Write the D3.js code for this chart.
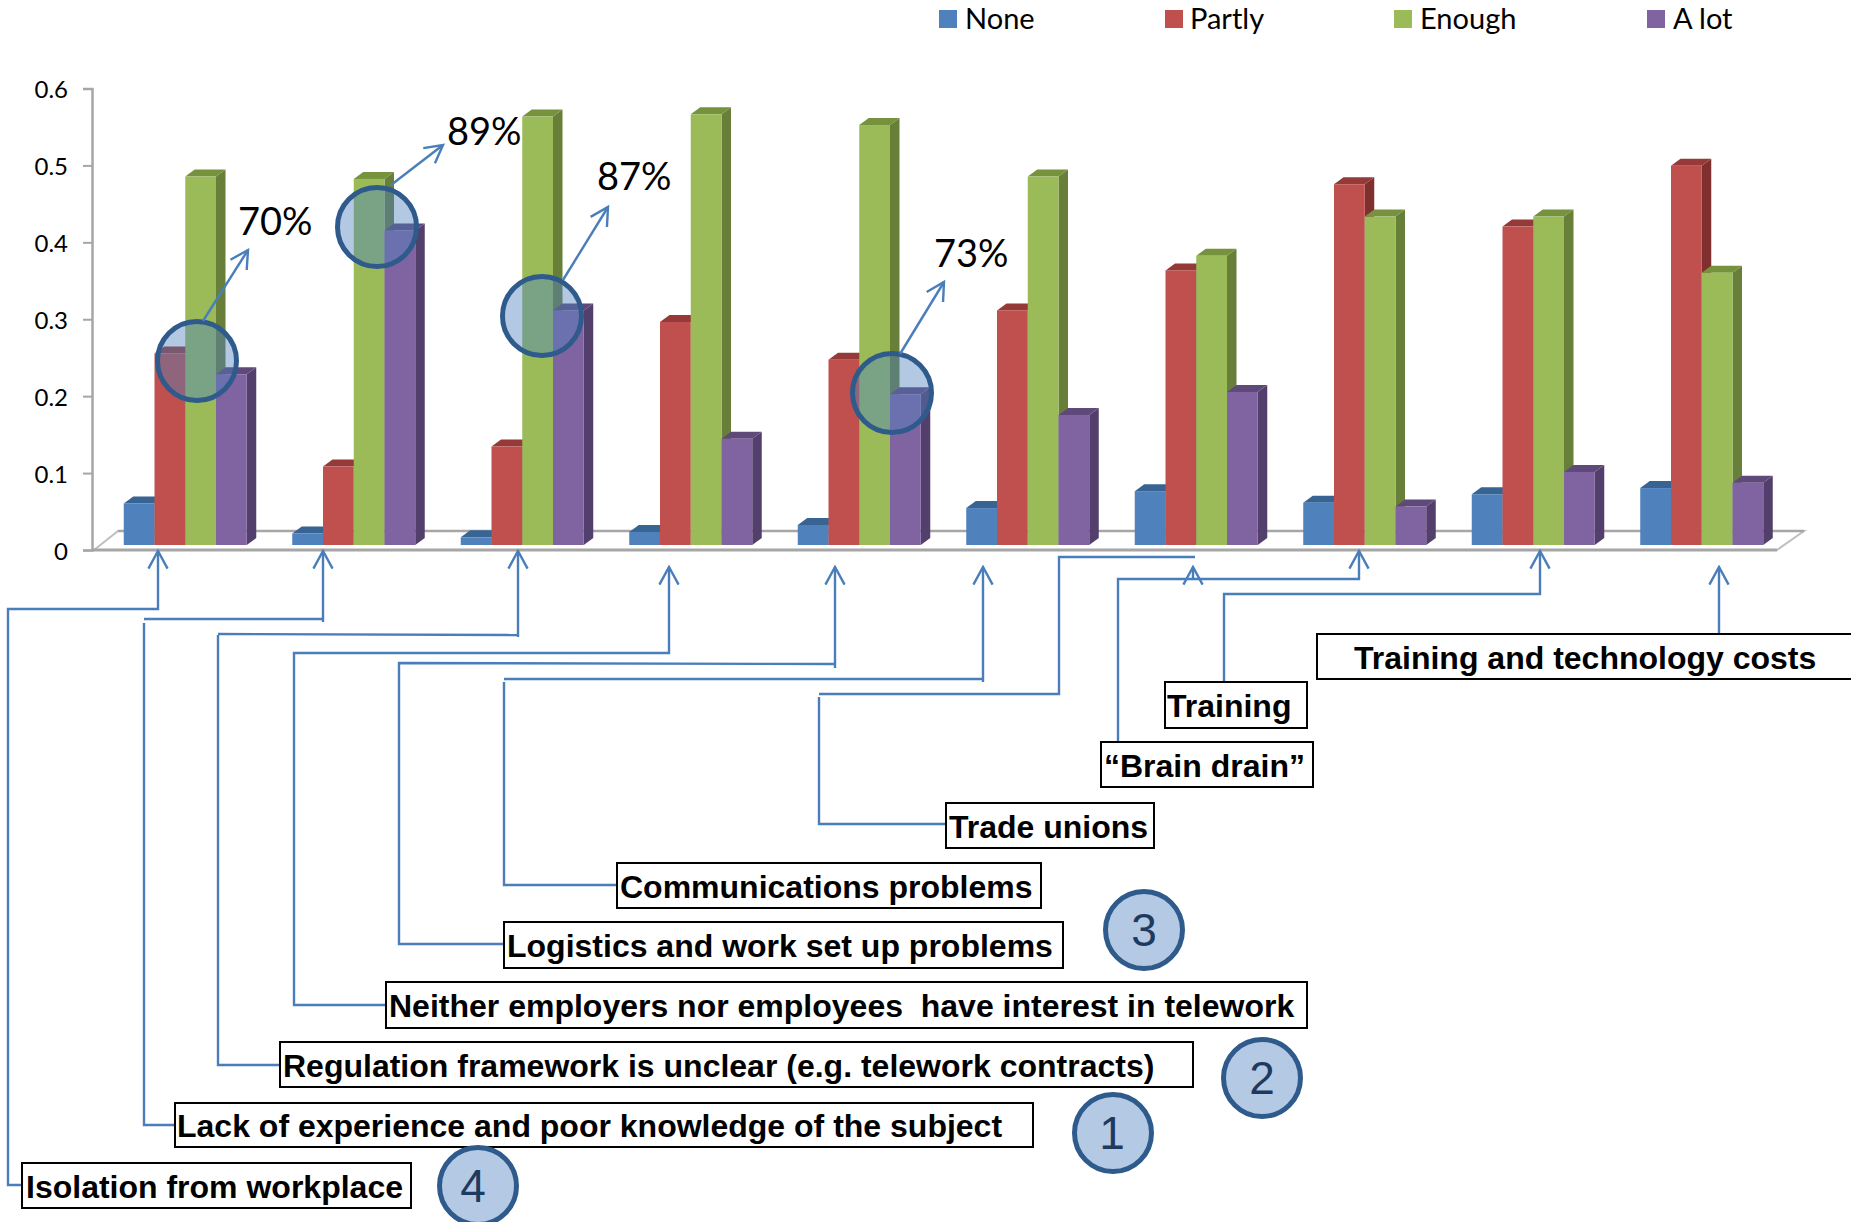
<!DOCTYPE html>
<html>
<head>
<meta charset="utf-8">
<script src="https://cdn.jsdelivr.net/npm/d3@7"></script>
<style>
html,body{margin:0;padding:0;background:#fff;overflow:hidden}
svg{display:block}
</style>
</head>
<body>
<svg id="chart" width="1851" height="1222"></svg>
<script>
// Survey answers per barrier, in axis order
const barriers = [
  "Isolation from workplace",
  "Lack of experience and poor knowledge of the subject",
  "Regulation framework is unclear (e.g. telework contracts)",
  "Neither employers nor employees  have interest in telework",
  "Logistics and work set up problems",
  "Communications problems",
  "Trade unions",
  "\u201cBrain drain\u201d",
  "Training",
  "Training and technology costs"
];
const seriesNames = ["None", "Partly", "Enough", "A lot"];
const none   = [0.054, 0.015, 0.010, 0.017, 0.026, 0.048, 0.070, 0.055, 0.066, 0.074];
const partly = [0.249, 0.102, 0.128, 0.290, 0.241, 0.305, 0.357, 0.469, 0.414, 0.493];
const enough = [0.479, 0.476, 0.557, 0.560, 0.546, 0.479, 0.376, 0.427, 0.427, 0.354];
const aLot   = [0.222, 0.409, 0.305, 0.138, 0.196, 0.169, 0.199, 0.050, 0.095, 0.081];
const yTicks = [0, 0.1, 0.2, 0.3, 0.4, 0.5, 0.6];

// Share callouts and ranking badges
const callouts = ["70%", "89%", "87%", "73%"];
const ranks = ["3", "2", "1", "4"];

const faceColors = ["#4f81bd", "#c0504d", "#9bbb59", "#8064a2"];
const topColors  = ["#386494", "#953a38", "#76923c", "#5f497a"];
const sideColors = ["#2f5580", "#7f302e", "#687f3a", "#533f6b"];

const columns = [none, partly, enough, aLot];
const svg = d3.select("#chart");

const sansNarrow = "Lato, sans-serif";
const sansBold = "'Liberation Sans', Arial, sans-serif";
const lineBlue = "#4a7ebb";

// Scales: the bars stand on a floor drawn slightly above the axis zero
const y = d3.scaleLinear().domain([0, 0.6]).range([550, 88.5]);
const x = d3.scaleBand().domain(barriers).range([101, 1786]).paddingInner(0.27).paddingOuter(0.135);
const xInner = d3.scaleBand().domain(seriesNames).range([0, x.bandwidth()]);
const floorLift = 5, depthX = 9.5, depthY = 7;

// Floor of the 3D plot
svg.append("path")
  .attr("d", "M94,550L118,531L1804,531L1777,550Z")
  .attr("fill", "#fff").attr("stroke", "#bfbfbf").attr("stroke-width", 2);
svg.append("line").attr("x1", 92).attr("x2", 1777).attr("y1", 550).attr("y2", 550)
  .attr("stroke", "#a6a6a6").attr("stroke-width", 3);
svg.append("line").attr("x1", 118).attr("x2", 1804).attr("y1", 531).attr("y2", 531)
  .attr("stroke", "#a6a6a6").attr("stroke-width", 2.5);

// Value axis
const axis = d3.axisLeft(y).tickValues(yTicks).tickFormat(d => d === 0 ? "0" : d3.format(".1f")(d)).tickSize(9).tickPadding(15);
const axisG = svg.append("g").attr("transform", "translate(92,0)").call(axis);
axisG.select(".domain").attr("stroke", "#a6a6a6").attr("stroke-width", 2.5);
axisG.selectAll(".tick line").attr("stroke", "#a6a6a6").attr("stroke-width", 2);
axisG.selectAll(".tick text").attr("font-family", sansNarrow).attr("font-size", 24).attr("fill", "#000")
  .attr("transform", "translate(0,1.5)");

// Bars: painted left to right so each front face overlaps its neighbour's side
barriers.forEach((b, i) => {
  const g = svg.append("g");
  seriesNames.forEach((s, j) => {
    const v = columns[j][i];
    const x0 = x(b) + xInner(s), x1 = x0 + xInner.bandwidth();
    const base = y(0) - floorLift, top = y(v) - floorLift;
    g.append("path")
      .attr("d", `M${x1},${top}L${x1 + depthX},${top - depthY}L${x1 + depthX},${base - depthY}L${x1},${base}Z`)
      .attr("fill", sideColors[j]);
    g.append("path")
      .attr("d", `M${x0},${top}L${x0 + depthX},${top - depthY}L${x1 + depthX},${top - depthY}L${x1},${top}Z`)
      .attr("fill", topColors[j]);
    g.append("rect").attr("x", x0).attr("y", top).attr("width", x1 - x0).attr("height", base - top)
      .attr("fill", faceColors[j]);
  });
});

// Legend
const legendSwatch = [939, 1165, 1394, 1647];
const legendText = [965, 1190, 1420, 1673];
seriesNames.forEach((s, j) => {
  svg.append("rect").attr("x", legendSwatch[j]).attr("y", 10).attr("width", 18).attr("height", 18).attr("fill", faceColors[j]);
  svg.append("text").attr("x", legendText[j]).attr("y", 29).text(s)
    .attr("font-family", sansNarrow).attr("font-size", 29).attr("fill", "#000");
});

// Open arrowhead helper
function arrowHead(x0, y0, x1, y1, len) {
  const a = Math.atan2(y1 - y0, x1 - x0), w = 0.5;
  const p = d3.path();
  p.moveTo(x1 - len * Math.cos(a - w), y1 - len * Math.sin(a - w));
  p.lineTo(x1, y1);
  p.lineTo(x1 - len * Math.cos(a + w), y1 - len * Math.sin(a + w));
  return p.toString();
}

// Elbow connectors from each label box up to its bar group
const connectors = [
  [[22,1185],[8,1185],[8,609],[158,609],[158,551]],
  [[175,1125],[144,1125],[144,623]],
  [[144,619],[323,619]],
  [[323,622],[323,551]],
  [[280,1065],[218,1065],[218,635]],
  [[218,634],[518,635]],
  [[518,637],[518,551]],
  [[386,1005],[294,1005],[294,653],[669,653],[669,567]],
  [[504,944],[399,944],[399,663],[835,664]],
  [[835,668],[835,567]],
  [[617,885],[504,885],[504,682]],
  [[504,679],[983,679]],
  [[983,682],[983,567]],
  [[946,824],[819,824],[819,697]],
  [[819,694],[1059,694],[1059,557],[1195,557]],
  [[1193,579],[1193,567]],
  [[1118,742],[1118,579],[1359,579],[1359,551]],
  [[1224,682],[1224,594],[1540,594],[1540,551]],
  [[1719,638],[1719,567]]
];
const lineGen = d3.line();
const headEnds = new Set([0, 3, 6, 7, 9, 12, 15, 16, 17, 18]);
connectors.forEach((pts, i) => {
  svg.append("path").attr("d", lineGen(pts)).attr("fill", "none").attr("stroke", lineBlue).attr("stroke-width", 2.4);
  if (headEnds.has(i)) {
    const n = pts.length;
    svg.append("path")
      .attr("d", arrowHead(pts[n - 2][0], pts[n - 2][1], pts[n - 1][0], pts[n - 1][1], 20))
      .attr("fill", "none").attr("stroke", lineBlue).attr("stroke-width", 2.4);
  }
});

// Label boxes
const boxes = [
  [22,1163,411,1208,26],
  [175,1103,1033,1147,177],
  [280,1042,1193,1087,283],
  [386,982,1307,1028,389],
  [504,922,1063,968,507],
  [617,863,1041,908,620],
  [946,803,1154,848,949],
  [1101,742,1313,787,1104],
  [1165,682,1307,728,1167],
  [1317,634,1870,679,1354]
];
barriers.forEach((b, i) => {
  const [bx0, by0, bx1, by1, tx] = boxes[i];
  svg.append("rect").attr("x", bx0).attr("y", by0).attr("width", bx1 - bx0).attr("height", by1 - by0)
    .attr("fill", "#fff").attr("stroke", "#000").attr("stroke-width", 2);
  svg.append("text").attr("x", tx).attr("y", (by0 + by1) / 2 + 12).text(b)
    .attr("xml:space", "preserve").style("white-space", "pre")
    .attr("font-family", sansBold).attr("font-weight", "bold").attr("font-size", 32).attr("fill", "#000");
});

// Highlight rings with their percentage arrows
const ringAt = [[197,361],[377,227],[542,316],[892,393]];
const calloutLine = [[[203,321],[248,250]],[[391,185],[443,145]],[[563,280],[608,207]],[[900,354],[944,282]]];
const calloutText = [[238,235],[447,145],[597,190],[934,267]];
callouts.forEach((c, i) => {
  const [cx, cy] = ringAt[i];
  svg.append("circle").attr("cx", cx).attr("cy", cy).attr("r", 39.5)
    .attr("fill", "#4f81bd").attr("fill-opacity", 0.43)
    .attr("stroke", "#2f5a8c").attr("stroke-width", 5);
  const [a, t] = calloutLine[i];
  svg.append("path").attr("d", lineGen([a, t])).attr("fill", "none").attr("stroke", lineBlue).attr("stroke-width", 2.4);
  svg.append("path").attr("d", arrowHead(a[0], a[1], t[0], t[1], 20)).attr("fill", "none").attr("stroke", lineBlue).attr("stroke-width", 2.4);
  svg.append("text").attr("x", calloutText[i][0]).attr("y", calloutText[i][1]).text(c)
    .attr("font-family", sansNarrow).attr("font-size", 38).attr("fill", "#000");
});

// Ranking badges
const rankAt = [[1144,930],[1262,1078],[1113,1133],[478,1186]];
const rankDigitX = [1144,1262,1112,473];
ranks.forEach((r, i) => {
  const [cx, cy] = rankAt[i];
  svg.append("circle").attr("cx", cx).attr("cy", cy).attr("r", 38.5)
    .attr("fill", "#b4c9e3").attr("stroke", "#2f5a8c").attr("stroke-width", 5);
  svg.append("text").attr("x", rankDigitX[i]).attr("y", cy + 16).attr("text-anchor", "middle").text(r)
    .attr("font-family", "'Liberation Sans', Arial, sans-serif").attr("font-size", 46).attr("fill", "#1f3a5f");
});
</script>
</body>
</html>
